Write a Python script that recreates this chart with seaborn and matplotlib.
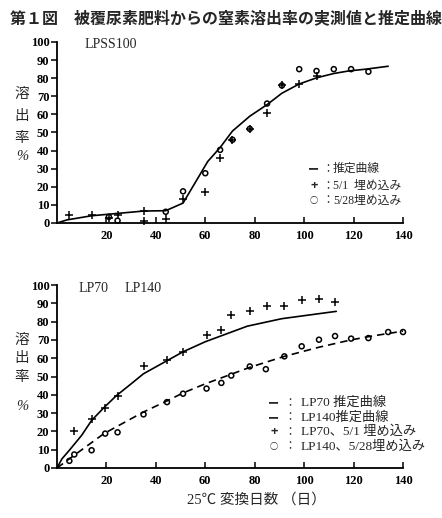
import matplotlib
matplotlib.use("Agg")
import matplotlib.pyplot as plt
import seaborn as sns
import pandas as pd

# ---------------- data ----------------
# Top panel: LPSS100
lpss_curve_days = [0, 4, 14, 35, 44, 51, 61, 66, 71, 78, 85, 91, 98, 105, 112, 118, 125, 134]
lpss_curve_rate = [0, 1.7, 4, 6.6, 6.8, 11, 34, 41.7, 50.8, 59, 65.4, 71.7, 76.8, 80.2, 82.6, 84, 85, 86.6]

lpss_may1_days = [5, 14, 21, 24.5, 35, 35, 44, 51, 60, 66, 71, 78, 85, 91, 98, 105]
lpss_may1_rate = [4.4, 4.4, 3, 4.4, 6.7, 1.1, 2.2, 13, 17, 36, 46, 52, 61, 76, 77, 81]

lpss_may28_days = [21, 24.5, 44, 51, 60, 66, 71, 78, 85, 91, 98, 105, 112, 119, 126]
lpss_may28_rate = [3.4, 1.3, 6.2, 17.5, 27.5, 40.4, 46, 52, 66, 76, 85, 84, 85, 85, 83.6]

# Bottom panel: LP70 / LP140
lp70_curve_days = [0, 2, 5, 10, 14, 19, 24, 30, 35, 45, 51, 60, 77, 91, 113]
lp70_curve_rate = [0, 5, 9.7, 17.9, 26, 33, 39.5, 46, 51.5, 59, 63.5, 69, 77.5, 81.6, 85.6]

lp140_curve_days = [0, 7, 19, 35, 45, 51, 60, 72, 78, 92, 106, 119, 127, 134, 141]
lp140_curve_rate = [0, 7, 18.8, 30.6, 37, 41, 46, 52, 55, 61, 66, 70, 72, 73.5, 75]

lp70_may1_days = [7, 14, 19.5, 24.5, 35, 44.5, 51, 60.5, 66.5, 70.5, 78, 85, 92, 99, 106, 112.5]
lp70_may1_rate = [20, 26.6, 33, 39.2, 56, 58.8, 63.3, 72.5, 75.4, 83.6, 86, 88.7, 88.7, 91.8, 92.3, 90.8]

lp140_may28_days = [5, 7, 14, 19.5, 24.5, 35, 44.5, 51, 60.5, 66.5, 70.5, 78, 84.5, 92, 99, 106,
                    112.5, 119, 126, 134, 140]
lp140_may28_rate = [3.9, 7.4, 9.7, 18.8, 19.5, 29.3, 36, 40.6, 43.4, 46.5, 50.5, 55.5, 54, 61, 66.5,
                    70.1, 72.1, 70.7, 71, 74.3, 74.3]

xtick_values = [20, 40, 60, 80, 100, 120, 140]
ytick_values = [0, 10, 20, 30, 40, 50, 60, 70, 80, 90, 100]

title_text = "第１図　被覆尿素肥料からの窒素溶出率の実測値と推定曲線"
ylabel_chars = ["溶", "出", "率", "%"]
xlabel_text = "25℃ 変換日数 （日）"

# ---------------- style ----------------
sns.set_theme(style="ticks")
SERIF = ["Liberation Serif", "Noto Sans CJK JP", "DejaVu Sans"]
CJK = ["Noto Sans CJK JP", "DejaVu Sans"]
plt.rcParams["font.family"] = SERIF
plt.rcParams["axes.unicode_minus"] = False

W, H = 442, 518
fig = plt.figure(figsize=(W / 100, H / 100), dpi=100)
fig.patch.set_facecolor("white")


def fx(px):
    return px / W


def fy(py):
    return 1 - py / H


ax1 = fig.add_axes([fx(57), fy(223), (403 - 57) / W, (223 - 42) / H])
ax2 = fig.add_axes([fx(57), fy(468), (403 - 57) / W, (468 - 285) / H])


def style_axes(ax):
    ax.set_xlim(0, 140)
    ax.set_ylim(0, 100)
    ax.set_xticks(xtick_values)
    ax.set_xticklabels([str(v) for v in xtick_values])
    ax.set_yticks(ytick_values)
    ax.set_yticklabels([str(v) for v in ytick_values])
    sns.despine(ax=ax)
    for s in ["left", "bottom"]:
        ax.spines[s].set_linewidth(1.3)
        ax.spines[s].set_color("black")
    ax.tick_params(axis="x", direction="in", length=4, width=1.1, pad=5,
                   labelsize=9, colors="black")
    ax.tick_params(axis="y", direction="out", length=4, width=1.1, pad=1.5,
                   labelsize=9, colors="black")
    for lab in ax.get_xticklabels() + ax.get_yticklabels():
        lab.set_fontfamily(SERIF)
        lab.set_fontweight("bold")
    ax.set_xlabel("")
    ax.set_ylabel("")
    ax.set_facecolor("white")
    ax.grid(False)


def crosses(ax, d, r):
    sns.scatterplot(x=d, y=r, marker="+", s=30, color="black", linewidth=1.1,
                    ax=ax, clip_on=False, zorder=4)


def circles(ax, d, r):
    sns.scatterplot(x=d, y=r, marker="o", s=13, facecolors="none",
                    edgecolor="black", linewidth=1.1, ax=ax, clip_on=False, zorder=4)


# ----- top panel -----
sns.lineplot(x=lpss_curve_days, y=lpss_curve_rate, ax=ax1, color="black",
             linewidth=1.2, estimator=None, sort=False)
crosses(ax1, lpss_may1_days, lpss_may1_rate)
circles(ax1, lpss_may28_days, lpss_may28_rate)
style_axes(ax1)

# ----- bottom panel -----
sns.lineplot(x=lp70_curve_days, y=lp70_curve_rate, ax=ax2, color="black",
             linewidth=1.2, estimator=None, sort=False)
sns.lineplot(x=lp140_curve_days, y=lp140_curve_rate, ax=ax2, color="black",
             linewidth=1.2, estimator=None, sort=False, dashes=False)
ax2.lines[-1].set_linestyle((0, (4.5, 3)))
crosses(ax2, lp70_may1_days, lp70_may1_rate)
circles(ax2, lp140_may28_days, lp140_may28_rate)
style_axes(ax2)

# ---------------- texts ----------------
fig.text(fx(10), fy(18), title_text, ha="left", va="center", fontsize=11.5,
         fontweight="bold", family=CJK)

# panel names
fig.text(fx(85), fy(45), "LPSS100", ha="left", va="center", fontsize=10, family=SERIF)
fig.text(fx(79), fy(288), "LP70", ha="left", va="center", fontsize=10, family=SERIF)
fig.text(fx(125), fy(288), "LP140", ha="left", va="center", fontsize=10, family=SERIF)

# vertical y labels
for ch, py in zip(ylabel_chars, [94, 116, 138, 156]):
    fam = SERIF if ch == "%" else CJK
    fig.text(fx(22), fy(py), ch, ha="center", va="center", fontsize=10.5, family=fam,
             style="italic" if ch == "%" else "normal")
for ch, py in zip(ylabel_chars, [340, 358, 377, 407]):
    fam = SERIF if ch == "%" else CJK
    fig.text(fx(22), fy(py), ch, ha="center", va="center", fontsize=10.5, family=fam,
             style="italic" if ch == "%" else "normal")

# top legend (text)
top_leg_symbols = ["ー", "+", "○"]
top_leg_sizes = [8, 9, 6]
top_leg_labels = ["推定曲線", "5/1  埋め込み", "5/28埋め込み"]
for sym, sz, lab, py in zip(top_leg_symbols, top_leg_sizes, top_leg_labels, [169, 186, 200.5]):
    fig.text(fx(314), fy(py), sym, ha="center", va="center", fontsize=sz, family=CJK,
             fontweight="bold")
    fig.text(fx(322), fy(py), "：", ha="left", va="center", fontsize=8, family=CJK)
    fig.text(fx(333), fy(py), lab, ha="left", va="center", fontsize=8.5, family=SERIF)

# bottom legend (text)
bot_leg_symbols = ["ー", "ー", "+", "○"]
bot_leg_sizes = [8, 8, 9, 6]
bot_leg_labels = ["LP70 推定曲線", "LP140推定曲線", "LP70、5/1 埋め込み", "LP140、5/28埋め込み"]
for sym, sz, lab, py in zip(bot_leg_symbols, bot_leg_sizes, bot_leg_labels, [403, 417.5, 432, 446.5]):
    fig.text(fx(274), fy(py), sym, ha="center", va="center", fontsize=sz, family=CJK,
             fontweight="bold")
    fig.text(fx(284), fy(py), "：", ha="left", va="center", fontsize=8, family=CJK)
    fig.text(fx(301), fy(py), lab, ha="left", va="center", fontsize=9.5, family=SERIF)

fig.text(fx(256), fy(500), xlabel_text, ha="center", va="center", fontsize=10.5, family=SERIF)

fig.savefig("out.png", dpi=100, facecolor="white")
